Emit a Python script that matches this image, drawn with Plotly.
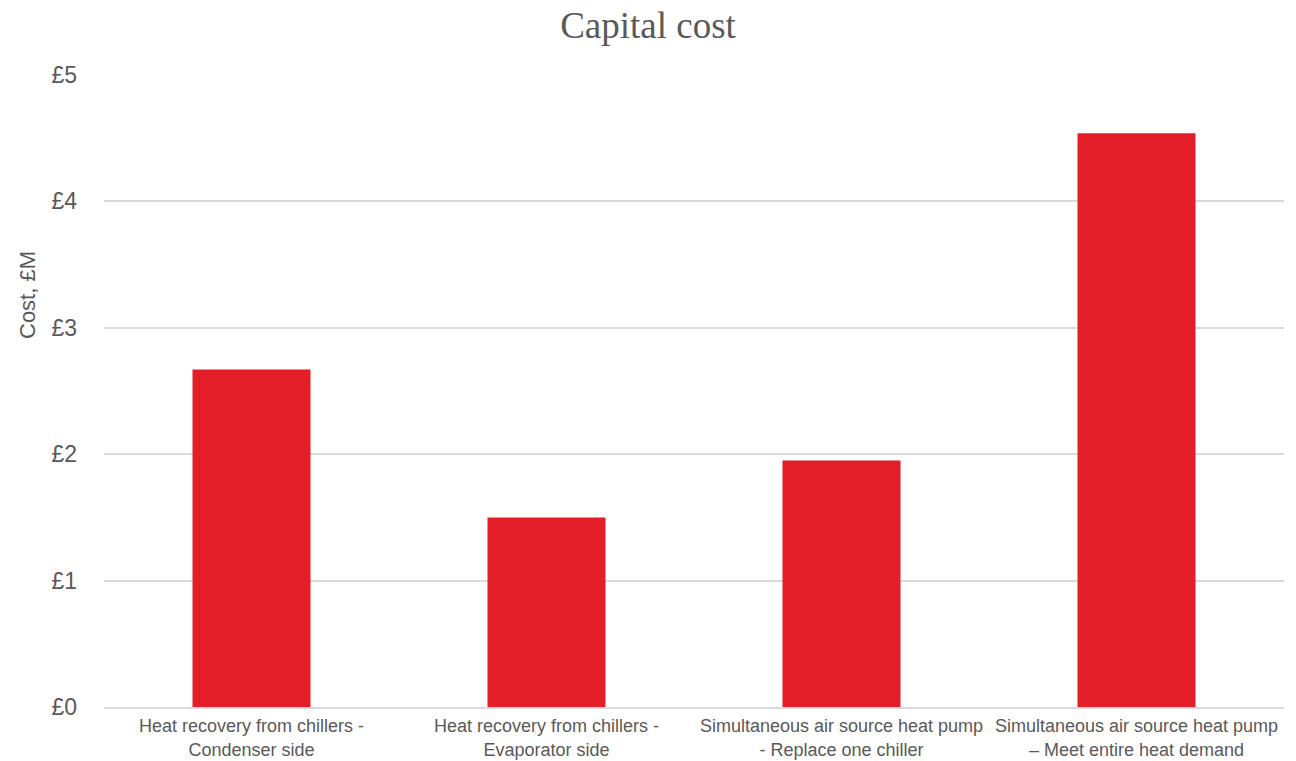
import plotly.graph_objects as go

# Capital cost of each heat recovery option, £M
categories = [
    "Heat recovery from chillers -<br>Condenser side",
    "Heat recovery from chillers -<br>Evaporator side",
    "Simultaneous air source heat pump<br>- Replace one chiller",
    "Simultaneous air source heat pump<br>– Meet entire heat demand",
]
costs = [2.67, 1.50, 1.95, 4.54]
y_ticks = [0, 1, 2, 3, 4, 5]
y_tick_labels = ["£0", "£1", "£2", "£3", "£4", "£5"]

TEXT = "#595959"

fig = go.Figure(
    go.Bar(
        x=categories,
        y=costs,
        marker=dict(color="#E41E28", line=dict(width=0)),
        width=0.4,
    )
)

fig.update_layout(
    width=1296,
    height=761,
    margin=dict(l=104, r=12, t=75, b=54),
    paper_bgcolor="white",
    plot_bgcolor="white",
    showlegend=False,
    title=dict(
        text="Capital cost",
        x=0.5,
        xanchor="center",
        y=1 - 25 / 761,
        yanchor="middle",
        font=dict(family="Liberation Serif, Times New Roman, serif", size=37, color=TEXT),
    ),
    font=dict(family="Liberation Sans, Arial, sans-serif", color=TEXT),
)

fig.update_xaxes(
    tickfont=dict(size=18, color=TEXT),
    tickangle=0,
    showline=True,
    linecolor="#d9d9d9",
    linewidth=1.5,
    showgrid=False,
    ticks="",
    automargin=False,
    ticklabelstandoff=2,
)

fig.update_yaxes(
    range=[0, 5],
    tickvals=y_ticks,
    ticktext=y_tick_labels,
    tickfont=dict(size=23, color=TEXT),
    showgrid=True,
    gridcolor="#d9d9d9",
    gridwidth=1.5,
    zeroline=False,
    ticks="",
    ticklabelstandoff=26,
    automargin=False,
)

fig.add_annotation(
    text="Cost, £M",
    textangle=-90,
    xref="paper",
    yref="paper",
    x=-(104 - 27) / 1180,
    xanchor="center",
    y=(707 - 295) / 632,
    yanchor="middle",
    showarrow=False,
    font=dict(size=22, color=TEXT),
)

fig.write_html("out.html")
